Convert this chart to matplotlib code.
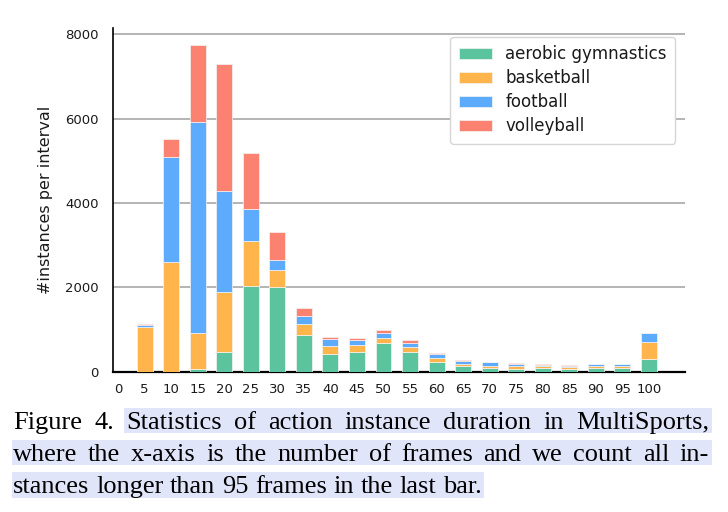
import matplotlib
matplotlib.use('Agg')
import matplotlib.pyplot as plt
from matplotlib.patches import Rectangle
from matplotlib.transforms import IdentityTransform
import numpy as np

plt.rcParams['font.family'] = ['DejaVu Sans']

frames = [5, 10, 15, 20, 25, 30, 35, 40, 45, 50, 55, 60, 65, 70, 75, 80, 85, 90, 95, 100]
aerobic = [0, 0, 65, 460, 2020, 2000, 860, 410, 470, 680, 470, 220, 125, 80, 55, 80, 70, 80, 80, 285]
basketball = [1050, 2600, 845, 1415, 1070, 420, 270, 205, 150, 125, 100, 90, 57, 62, 70, 48, 31, 57, 57, 420]
football = [55, 2500, 5020, 2405, 775, 230, 180, 145, 125, 110, 105, 100, 78, 80, 57, 33, 33, 31, 31, 200]
volleyball = [15, 420, 1805, 3010, 1330, 650, 205, 63, 40, 63, 64, 24, 16, 10, 10, 10, 10, 8, 8, 0]

sports = ['aerobic gymnastics', 'basketball', 'football', 'volleyball']
colors = ['#5BC49F', '#FFB54C', '#5DABFC', '#FB8270']

caption = [
    "Figure 4. Statistics of action instance duration in MultiSports,",
    "where the x-axis is the number of frames and we count all in-",
    "stances longer than 95 frames in the last bar.",
]

fig = plt.figure(figsize=(7.28, 5.12), dpi=100)
ax = fig.add_axes([0.1548, 0.2744, 0.7862, 0.6709])

bottom = np.zeros(len(frames))
for name, vals, c in zip(sports, [aerobic, basketball, football, volleyball], colors):
    ax.bar(frames, vals, width=3, bottom=bottom, color=c, edgecolor='#f4f4f4',
           linewidth=0.5, label=name, zorder=3)
    bottom += np.array(vals)

ax.set_xlim(-1, 106.8)
ax.set_ylim(0, 8150)
ax.set_xticks(range(0, 101, 5))
ax.set_yticks(range(0, 8001, 2000))
ax.tick_params(axis='both', length=0, labelsize=9.5, colors='#1a1a1a')
ax.tick_params(axis='y', pad=10)
ax.tick_params(axis='x', pad=8)
ax.yaxis.grid(True, color='#b4b4b4', linewidth=1.4, zorder=0)
ax.set_axisbelow(True)
for s in ['top', 'right']:
    ax.spines[s].set_visible(False)
ax.spines['left'].set_linewidth(1.2)
ax.spines['bottom'].set_linewidth(1.6)
ax.set_ylabel('#instances per interval', fontsize=11.5, color='#1a1a1a', labelpad=9)

leg = ax.legend(loc='upper right', bbox_to_anchor=(0.9825, 0.974), borderaxespad=0,
                fontsize=12, handlelength=2.0, handleheight=0.7, handletextpad=0.8,
                labelspacing=0.36, borderpad=0.5, fancybox=True, framealpha=1)
leg.get_frame().set_edgecolor('#d6d6d6')
for t in leg.get_texts():
    t.set_color('#1a1a1a')

# caption, justified by hand, with the highlight behind it
H = 512
fsize = 19
renderer = fig.canvas.get_renderer()
baselines = [429, 461, 493]
hl_rows = [(408, 433), (440, 465), (472, 498)]
justify = [True, True, False]
x_left, x_right = 13, 709
for i, line in enumerate(caption):
    words = line.split(' ')
    objs = []
    for w in words:
        t = fig.text(0, H - baselines[i], w, fontsize=fsize, family='Liberation Serif',
                     va='baseline', ha='left', transform=IdentityTransform(), zorder=5)
        objs.append(t)
    widths = [t.get_window_extent(renderer).width for t in objs]
    if justify[i]:
        gap = (x_right - x_left - sum(widths)) / (len(words) - 1)
    else:
        gap = 0.25 * fsize * 100 / 72
    x = x_left
    starts = []
    for t, wd in zip(objs, widths):
        t.set_x(x)
        starts.append(x)
        x += wd + gap
    end = starts[-1] + widths[-1]
    h0 = starts[2] - 2 if i == 0 else x_left - 1
    y0, y1 = hl_rows[i]
    fig.patches.append(Rectangle((h0, H - y1), end + 3 - h0, y1 - y0,
                                 transform=IdentityTransform(), facecolor='#E1E5FA',
                                 edgecolor='none', zorder=1))

plt.savefig('out.png', dpi=100)
